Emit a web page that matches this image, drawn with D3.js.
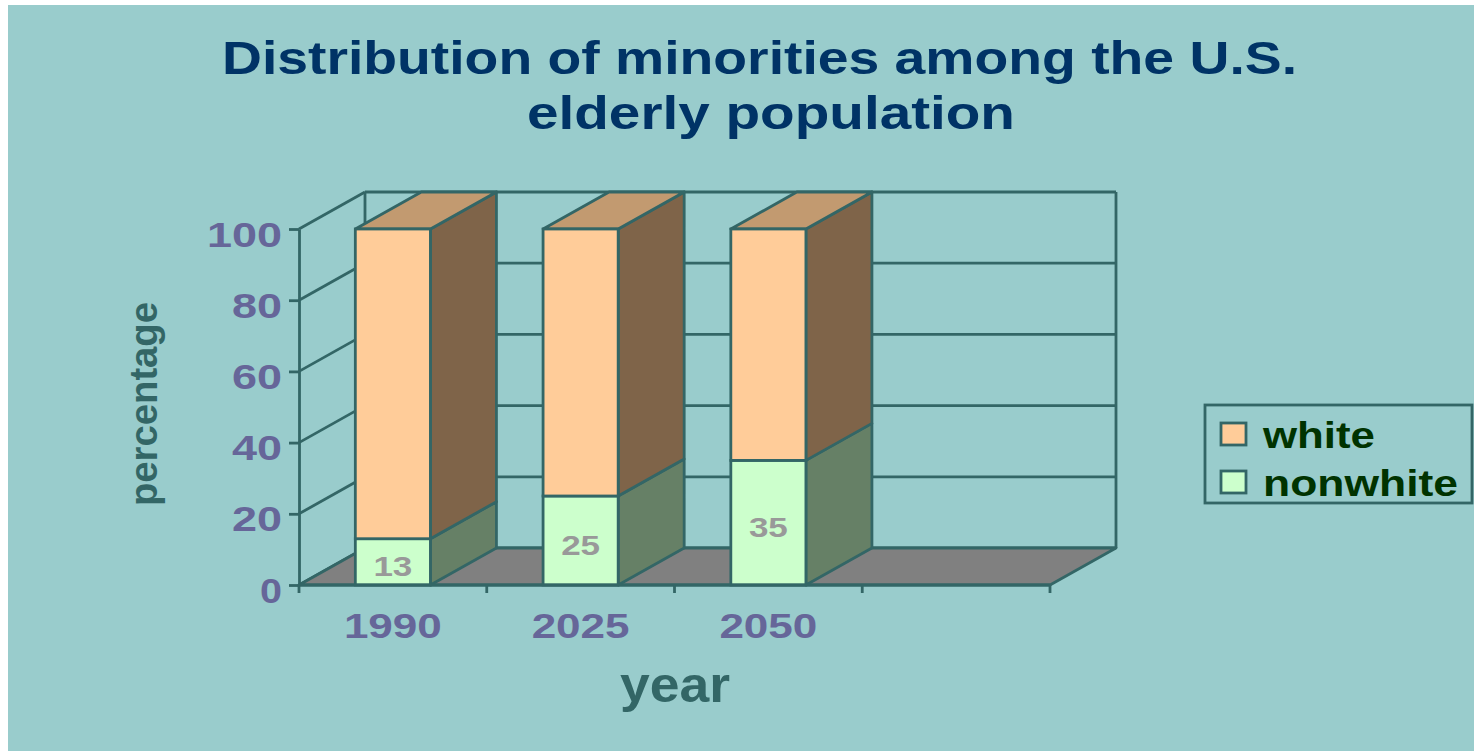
<!DOCTYPE html>
<html>
<head>
<meta charset="utf-8">
<script src="https://cdn.jsdelivr.net/npm/d3@7"></script>
<style>
  html, body { margin: 0; padding: 0; background: #ffffff; }
  svg { display: block; }
  text { font-family: "Liberation Sans", Arial, Helvetica, sans-serif; font-weight: bold; }
</style>
</head>
<body>
<svg id="chart" width="1474" height="751"></svg>
<script>
// ---- data ----
const categories = ["1990", "2025", "2050"];
const nonwhite = [13, 25, 35];
const white = [87, 75, 65];
const yTicks = [0, 20, 40, 60, 80, 100];
const seriesNames = ["white", "nonwhite"];
const titleLines = ["Distribution of minorities among the U.S.", "elderly population"];

// ---- layout ----
const W = 1474, H = 751;
const front = { left: 299, right: 1050, top: 229, bottom: 585 };
const depth = { dx: 66, dy: -37 };
const C = {
  bg: "#99CCCC", line: "#336666", floor: "#808080",
  whiteFront: "#FFCC99", whiteTop: "#C29A70", whiteSide: "#7F6449",
  nwFront: "#CCFFCC", nwSide: "#668066",
  tick: "#666699", title: "#003366", axisTitle: "#336666",
  valueLabel: "#999999", legendText: "#003300"
};

const svg = d3.select("#chart");
svg.append("rect").attr("width", W).attr("height", H).attr("fill", "#ffffff");
svg.append("rect").attr("x", 8).attr("y", 5).attr("width", W - 8).attr("height", H - 5).attr("fill", C.bg);

const slots = categories.concat([""]);
const x = d3.scaleBand().domain(slots).range([front.left, front.right]).paddingInner(0.6).paddingOuter(0.3);
const y = d3.scaleLinear().domain([0, 100]).range([front.bottom, front.top]);
const step = x.step();

const sw = 2.8;
const pts = arr => arr.map(p => p.join(",")).join(" ");

// ---- back wall grid ----
const back = svg.append("g");
const bl = front.left + depth.dx, br = front.right + depth.dx;
yTicks.forEach(t => {
  const yy = y(t) + depth.dy;
  back.append("line").attr("x1", bl).attr("x2", br).attr("y1", yy).attr("y2", yy)
    .attr("stroke", C.line).attr("stroke-width", sw);
  back.append("line").attr("x1", front.left).attr("y1", y(t)).attr("x2", bl).attr("y2", yy)
    .attr("stroke", C.line).attr("stroke-width", sw);
});
back.append("line").attr("x1", bl).attr("x2", bl).attr("y1", y(100) + depth.dy).attr("y2", y(0) + depth.dy)
  .attr("stroke", C.line).attr("stroke-width", sw);
back.append("line").attr("x1", br).attr("x2", br).attr("y1", y(100) + depth.dy).attr("y2", y(0) + depth.dy)
  .attr("stroke", C.line).attr("stroke-width", sw);

// ---- floor ----
svg.append("polygon")
  .attr("points", pts([[front.left, y(0)], [front.right, y(0)], [br, y(0) + depth.dy], [bl, y(0) + depth.dy]]))
  .attr("fill", C.floor).attr("stroke", C.line).attr("stroke-width", sw).attr("stroke-linejoin", "round");

// ---- bars ----
const barsG = svg.append("g");
function box(x0, x1, v0, v1, frontFill, sideFill, topFill) {
  const g = barsG.append("g");
  const y0 = y(v0), y1 = y(v1);
  g.append("polygon").attr("points", pts([[x1, y0], [x1 + depth.dx, y0 + depth.dy], [x1 + depth.dx, y1 + depth.dy], [x1, y1]]))
    .attr("fill", sideFill).attr("stroke", C.line).attr("stroke-width", sw).attr("stroke-linejoin", "round");
  if (topFill) {
    g.append("polygon").attr("points", pts([[x0, y1], [x0 + depth.dx, y1 + depth.dy], [x1 + depth.dx, y1 + depth.dy], [x1, y1]]))
      .attr("fill", topFill).attr("stroke", C.line).attr("stroke-width", sw).attr("stroke-linejoin", "round");
  }
  g.append("rect").attr("x", x0).attr("y", y1).attr("width", x1 - x0).attr("height", y0 - y1)
    .attr("fill", frontFill).attr("stroke", C.line).attr("stroke-width", sw);
}
categories.forEach((c, i) => {
  const x0 = x(c), x1 = x(c) + x.bandwidth();
  box(x0, x1, 0, nonwhite[i], C.nwFront, C.nwSide, null);
  box(x0, x1, nonwhite[i], nonwhite[i] + white[i], C.whiteFront, C.whiteSide, C.whiteTop);
  const mid = (y(0) + y(nonwhite[i])) / 2;
  barsG.append("text").attr("x", x0 + x.bandwidth() / 2).attr("y", mid + 14)
    .attr("text-anchor", "middle").attr("font-size", 27).attr("fill", C.valueLabel)
    .attr("textLength", 39).attr("lengthAdjust", "spacingAndGlyphs")
    .text(nonwhite[i]);
});

// ---- y axis ----
const yAxis = svg.append("g").attr("transform", `translate(${front.left},0)`)
  .call(d3.axisLeft(y).tickValues(yTicks).tickSize(10).tickSizeOuter(0));
yAxis.select(".domain").attr("stroke", C.line).attr("stroke-width", sw);
yAxis.selectAll(".tick line").attr("stroke", C.line).attr("stroke-width", sw);
const tlen = { 1: 22, 2: 50, 3: 75 };
yAxis.selectAll(".tick text")
  .attr("x", -17).attr("dy", null).attr("y", 17)
  .attr("fill", C.tick).attr("font-size", 35)
  .attr("textLength", d => tlen[String(d).length]).attr("lengthAdjust", "spacingAndGlyphs");
yAxis.attr("font-family", null).attr("font-size", null);

// ---- x axis ----
const xAxis = svg.append("g");
xAxis.append("line").attr("x1", front.left).attr("x2", front.right).attr("y1", y(0)).attr("y2", y(0))
  .attr("stroke", C.line).attr("stroke-width", sw);
d3.range(slots.length + 1).forEach(i => {
  const px = front.left + i * step;
  xAxis.append("line").attr("x1", px).attr("x2", px).attr("y1", y(0)).attr("y2", y(0) + 8)
    .attr("stroke", C.line).attr("stroke-width", sw);
});
categories.forEach(c => {
  xAxis.append("text").attr("x", x(c) + x.bandwidth() / 2).attr("y", 638)
    .attr("text-anchor", "middle").attr("font-size", 35).attr("fill", C.tick)
    .attr("textLength", 98).attr("lengthAdjust", "spacingAndGlyphs").text(c);
});

// ---- titles ----
svg.append("text").attr("x", 222).attr("y", 74).attr("font-size", 46).attr("fill", C.title)
  .attr("textLength", 1075).attr("lengthAdjust", "spacingAndGlyphs").text(titleLines[0]);
svg.append("text").attr("x", 527).attr("y", 129).attr("font-size", 46).attr("fill", C.title)
  .attr("textLength", 488).attr("lengthAdjust", "spacingAndGlyphs").text(titleLines[1]);

svg.append("text").attr("x", 620).attr("y", 702).attr("font-size", 50).attr("fill", C.axisTitle)
  .attr("textLength", 110).attr("lengthAdjust", "spacingAndGlyphs").text("year");
svg.append("text").attr("transform", "translate(157,506) rotate(-90)").attr("font-size", 39).attr("fill", C.axisTitle)
  .attr("textLength", 204).attr("lengthAdjust", "spacingAndGlyphs").text("percentage");

// ---- legend ----
const lg = svg.append("g");
lg.append("rect").attr("x", 1205).attr("y", 405).attr("width", 267).attr("height", 98)
  .attr("fill", "none").attr("stroke", C.line).attr("stroke-width", sw);
const legFills = [C.whiteFront, C.nwFront];
const legLen = [112, 195];
seriesNames.forEach((s, i) => {
  lg.append("rect").attr("x", 1221).attr("y", 423 + i * 48).attr("width", 25).attr("height", 22)
    .attr("fill", legFills[i]).attr("stroke", C.line).attr("stroke-width", sw);
  lg.append("text").attr("x", 1263).attr("y", 448 + i * 48).attr("font-size", 36).attr("fill", C.legendText)
    .attr("textLength", legLen[i]).attr("lengthAdjust", "spacingAndGlyphs").text(s);
});
</script>
</body>
</html>
